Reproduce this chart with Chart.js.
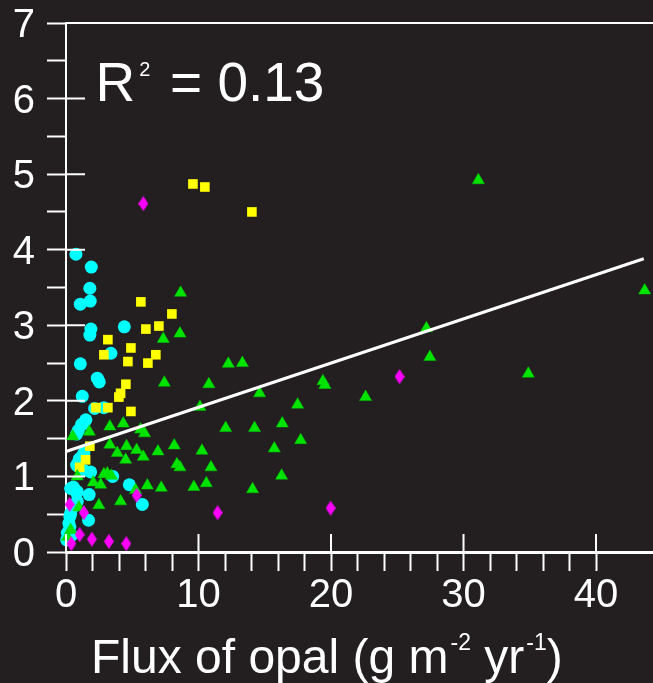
<!DOCTYPE html>
<html><head><meta charset="utf-8">
<script src="https://cdn.jsdelivr.net/npm/chart.js@4.4.1/dist/chart.umd.min.js"></script>
<style>html,body{margin:0;padding:0;background:#231F20;overflow:hidden}canvas{display:block}</style>
</head><body>
<canvas id="c" width="653" height="683"></canvas>
<script>
// ---- data ----
const cyanX = [0.75,1.91,1.80,1.83,1.08,1.88,1.80,4.40,3.39,1.08,2.36,2.51,1.23,2.16,2.86,1.50,1.35,1.18,0.93,0.80,1.35,0.98,1.05,0.80,0.97,1.35,1.86,3.52,4.78,5.76,1.75,0.35,0.55,0.85,0.80,0.85,0.55,0.35,0.29,0.22,0.29,1.70,0.10,0.42,0.05];
const cyanY = [3.94,3.77,3.49,3.32,3.28,2.95,2.87,2.98,2.63,2.49,2.30,2.25,2.06,1.90,1.91,1.75,1.70,1.69,1.61,1.56,1.31,1.22,1.24,1.15,1.13,1.08,1.06,1.00,0.89,0.63,0.76,0.84,0.86,0.80,0.78,0.67,0.60,0.51,0.47,0.38,0.33,0.42,0.25,0.22,0.16];

const yellowX = [9.58,10.48,14.03,5.65,7.99,6.03,7.01,3.16,4.90,2.86,6.78,4.67,6.18,4.52,4.12,3.99,2.26,3.16,4.90,1.80,1.48,1.03];
const yellowY = [4.87,4.83,4.50,3.31,3.15,2.95,2.99,2.81,2.70,2.61,2.61,2.52,2.50,2.22,2.10,2.05,1.91,1.91,1.86,1.40,1.22,1.12];

const greenX = [31.12,43.67,8.65,7.34,8.60,27.2,27.46,12.25,13.31,7.42,10.78,19.39,19.54,34.89,14.61,10.11,17.48,22.61,12.05,14.23,16.32,17.71,6.94,8.17,10.26,15.72,8.37,8.60,10.94,7.19,9.65,10.59,14.08,16.27,6.14,3.31,4.32,1.76,0.50,5.63,5.93,3.31,4.57,3.87,5.33,5.83,4.50,0.85,2.06,2.61,2.86,3.12,3.42,2.48,4.12,5.25,0.97,0.35,0.10];
const greenY = [4.92,3.46,3.43,2.82,2.89,2.96,2.58,2.49,2.50,2.24,2.22,2.26,2.21,2.36,2.10,1.92,1.95,2.05,1.64,1.64,1.70,1.48,1.33,1.41,1.34,1.37,1.16,1.12,1.12,0.85,0.86,0.91,0.83,1.01,0.88,1.66,1.70,1.59,1.53,1.62,1.57,1.42,1.40,1.31,1.35,1.26,1.22,1.00,0.92,0.89,1.03,1.04,1.01,0.62,0.67,0.82,0.59,0.29,0.20];

const magentaX = [5.83,25.17,11.44,19.97,5.33,0.27,1.35,1.03,1.95,3.24,4.55,0.40];
const magentaY = [4.61,2.32,0.52,0.58,0.75,0.63,0.52,0.23,0.17,0.14,0.11,0.11];

const fitX = [0, 43.6];
const fitY = [1.33, 3.88];

const xTickLabels = ['0','10','20','30','40'];
const yTickLabels = ['0','1','2','3','4','5','6','7'];
const r2Main = 'R';
const r2Sup = '2';
const r2Value = '= 0.13';
const xTitleParts = [['Flux of opal (g m', false], ['-2', true], [' yr', false], ['-1', true], [')', false]];

// ---- styling ----
const BG = '#231F20';
const FONT = '"Liberation Sans", Arial, Helvetica, sans-serif';
const pts = (xs, ys) => xs.map((x, i) => ({x: x, y: ys[i]}));

const diamond = document.createElement('canvas');
diamond.width = 10; diamond.height = 15;
(function(){
  const g = diamond.getContext('2d');
  g.fillStyle = '#FF00FF';
  g.beginPath(); g.moveTo(5,0); g.lineTo(10,7.5); g.lineTo(5,15); g.lineTo(0,7.5); g.closePath(); g.fill();
})();

const decor = {
  id: 'decor',
  beforeDraw(chart) {
    const c = chart.ctx;
    c.save(); c.fillStyle = BG; c.fillRect(0, 0, chart.width, chart.height); c.restore();
  },
  afterDraw(chart) {
    const c = chart.ctx, a = chart.chartArea, xs = chart.scales.x, ys = chart.scales.y;
    c.save();
    c.strokeStyle = '#fff'; c.lineWidth = 2;
    c.beginPath();
    c.moveTo(a.left, a.top); c.lineTo(a.right, a.top);
    yTickLabels.forEach(t => { const p = ys.getPixelForValue(+t); c.moveTo(a.left, p); c.lineTo(a.left + 19, p); });
    xTickLabels.forEach(t => { const p = xs.getPixelForValue(+t); c.moveTo(p, a.bottom); c.lineTo(p, a.bottom - 18); });
    c.stroke();
    // R^2 annotation
    c.fillStyle = '#fff'; c.textBaseline = 'alphabetic'; c.textAlign = 'left';
    c.font = '55px ' + FONT;
    c.fillText(r2Main, 95.5, 101);
    const rw = c.measureText(r2Main).width;
    c.font = '20px ' + FONT;
    c.fillText(r2Sup, 95.5 + rw + 4, 76);
    c.font = '55px ' + FONT;
    c.fillText(r2Value, 170, 101);
    // x-axis title
    let x = 91;
    xTitleParts.forEach(([s, sup]) => {
      c.font = (sup ? '23px ' : '48px ') + FONT;
      c.fillText(s, x + (sup ? 2 : 0), sup ? 650 : 673);
      x += c.measureText(s).width + (sup ? 2 : 0);
    });
    c.restore();
  }
};

new Chart(document.getElementById('c'), {
  type: 'scatter',
  data: {
    datasets: [
      { type: 'line', data: pts(fitX, fitY), borderColor: '#fff', borderWidth: 3, pointRadius: 0, showLine: true, fill: false, clip: false },
      { data: pts(magentaX, magentaY), pointStyle: diamond, pointRadius: 7, backgroundColor: '#FF00FF', borderWidth: 0, clip: false },
      { data: pts(greenX, greenY), pointStyle: 'triangle', pointRadius: 7, backgroundColor: '#00E400', borderColor: '#00C800', borderWidth: 0.5, clip: false },
      { data: pts(yellowX, yellowY), pointStyle: 'rect', pointRadius: 6.8, backgroundColor: '#FFFF00', borderWidth: 0, clip: false },
      { data: pts(cyanX, cyanY), pointStyle: 'circle', pointRadius: 6.5, backgroundColor: '#00FFFF', borderWidth: 0, clip: false }
    ]
  },
  options: {
    responsive: false, animation: false, devicePixelRatio: 1,
    layout: { autoPadding: false, padding: { top: 23, left: 0, right: 0, bottom: 0 } },
    plugins: { legend: { display: false }, tooltip: { enabled: false } },
    scales: {
      x: {
        type: 'linear', min: 0, max: 44.3,
        border: { display: true, color: '#fff', width: 3 },
        grid: { drawOnChartArea: false, drawTicks: true, tickLength: 19, tickWidth: 2,
                tickColor: ctx => (ctx.tick && ctx.tick.value > 40) ? 'rgba(0,0,0,0)' : '#fff' },
        ticks: { stepSize: 2, includeBounds: false, autoSkip: false, maxRotation: 0, padding: 1,
                 color: '#fff', font: { family: FONT, size: 40 },
                 callback: v => xTickLabels.includes(String(v)) ? String(v) : '' },
        afterFit: s => { s.height = 131; s.paddingLeft = 0; s.paddingRight = 0; }
      },
      y: {
        type: 'linear', min: 0, max: 7,
        border: { display: true, color: '#fff', width: 2 },
        grid: { drawOnChartArea: false, drawTicks: true, tickLength: 19, tickWidth: 2, tickColor: '#fff' },
        ticks: { stepSize: 0.5, autoSkip: false, padding: 12, labelOffset: 3,
                 color: '#fff', font: { family: FONT, size: 40 },
                 callback: v => yTickLabels.includes(String(v)) ? String(v) : '' },
        afterFit: s => { s.width = 66; s.paddingTop = 0; s.paddingBottom = 0; }
      }
    }
  },
  plugins: [decor]
});
</script>
</body></html>
